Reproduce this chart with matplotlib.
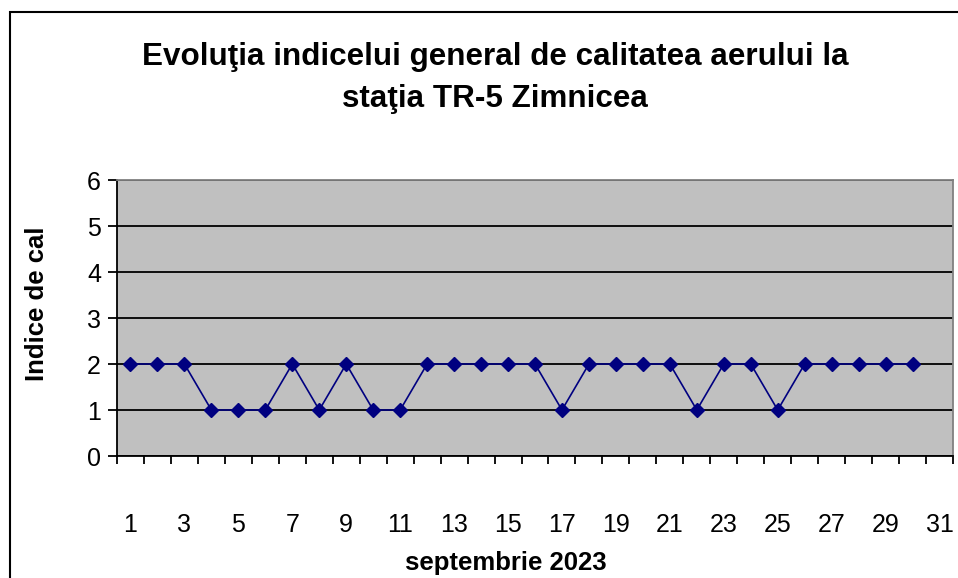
import numpy as np
import matplotlib.pyplot as plt
from matplotlib.patches import Rectangle

# ── Datele: indicele general de calitate a aerului, septembrie 2023 ──
zile = list(range(1, 32))
indice = [2, 2, 2, 1, 1, 1, 2, 1, 2, 1,
          1, 2, 2, 2, 2, 2, 1, 2, 2, 2,
          2, 1, 2, 2, 1, 2, 2, 2, 2, 2]
etichete_x = [str(z) for z in zile[::2]]
valori_y = [0, 1, 2, 3, 4, 5, 6]

titlu = "Evoluţia indicelui general de calitatea aerului la\nstaţia TR-5 Zimnicea"

plt.rcParams['font.family'] = ['Liberation Sans', 'DejaVu Sans']

W, H = 958, 578
fig = plt.figure(figsize=(W / 100, H / 100), dpi=100)

# chenarul exterior (taiat in dreapta si jos)
fig.patches.append(Rectangle((9.5 / W, -0.1), 1.2, 1 - 12.5 / H + 0.1,
                             transform=fig.transFigure, fill=False,
                             edgecolor='black', linewidth=1.5))

ax = fig.add_axes([117 / W, 1 - 456 / H, (953 - 117) / W, (456 - 180) / H])
ax.set_facecolor('#C0C0C0')

ax.plot(zile[:len(indice)], indice, color='#000080', linewidth=1.2,
        marker='D', markersize=7, zorder=3)

ax.set_xlim(0.5, 31.5)
ax.set_ylim(0, 6)

# liniile orizontale de grila
ax.set_yticks(valori_y)
ax.set_yticklabels([str(v) for v in valori_y], fontsize=18)
ax.yaxis.grid(True, color='black', linewidth=1.3)
ax.tick_params(axis='y', length=6.5, width=1.3, pad=5, direction='out')

# gradatii intre categorii, etichete pe zilele impare
ax.set_xticks(np.arange(0.5, 32, 1))
ax.set_xticklabels([])
ax.tick_params(axis='x', which='major', length=6, width=1.3, direction='out')
ax.set_xticks(zile[::2], minor=True)
ax.set_xticklabels(etichete_x, minor=True, fontsize=18)
ax.tick_params(axis='x', which='minor', length=0, pad=41)

for s in ['top', 'right']:
    ax.spines[s].set_color('#808080')
    ax.spines[s].set_linewidth(1.3)
for s in ['left', 'bottom']:
    ax.spines[s].set_color('black')
    ax.spines[s].set_linewidth(1.3)

fig.text(495 / W, 1 - 78 / H, titlu, ha='center', va='center',
         fontsize=22.6, fontweight='bold', linespacing=1.48)
fig.text(37 / W, 1 - 304 / H, "Indice de cal", rotation=90,
         ha='center', va='center', fontsize=18.5, fontweight='bold')
fig.text(506 / W, 1 - 563 / H, "septembrie 2023", ha='center', va='center',
         fontsize=18.5, fontweight='bold')

fig.savefig('out.png', dpi=100)
